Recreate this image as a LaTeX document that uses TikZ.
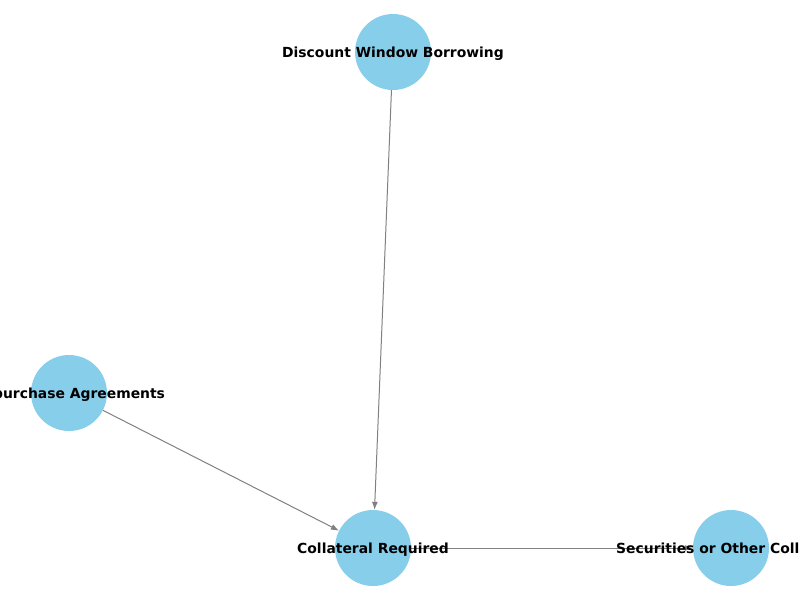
\documentclass[tikz,border=0pt]{standalone}
\usepackage{fontspec}
\setmainfont{DejaVu Sans}
\usetikzlibrary{arrows.meta}

\definecolor{hubblue}{HTML}{87CEEB}
\tikzset{
  hub/.style={circle, fill=hubblue, minimum size=76pt, inner sep=0pt},
  tag/.style={font=\bfseries\fontsize{13.9}{16}\selectfont, inner sep=0pt, anchor=base, yshift=-5pt},
  link/.style={draw=gray, line width=1pt, -{Latex[length=8pt,width=6pt]}}
}

\begin{document}
\begin{tikzpicture}[x=1pt,y=-1pt]
\useasboundingbox (0,0) rectangle (800,600);
\clip (0,0) rectangle (800,600);

\node[hub] (dwb) at (393,52) {};
\node[hub] (rpa) at (69,393) {};
\node[hub] (col) at (373,548) {};
\node[hub] (sec) at (731,548) {};

\draw[link] (dwb) -- (col);
\draw[link] (rpa) -- (col);
\draw[link] (col) -- (sec);

\node[tag] at (dwb) {Discount Window Borrowing};
\node[tag] at (rpa) {Repurchase Agreements};
\node[tag] at (col) {Collateral Required};
\node[tag] at (sec) {Securities or Other Collateral};

\end{tikzpicture}
\end{document}
